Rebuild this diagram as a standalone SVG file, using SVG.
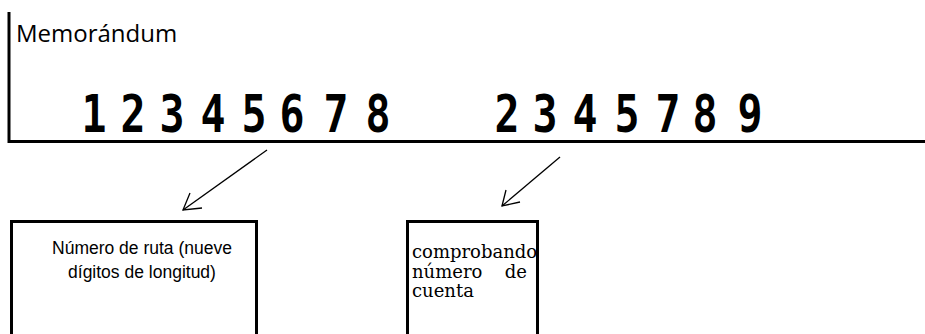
<svg xmlns="http://www.w3.org/2000/svg" width="925" height="334" viewBox="0 0 925 334">
  <style>
    .rule { stroke: #000; stroke-width: 3; fill: none; }
    .box { stroke: #000; stroke-width: 3; fill: #fff; }
    .conn { stroke: #000; stroke-width: 1.3; fill: none; }
    .micr { font-family: "DejaVu Sans Mono", "Liberation Mono", monospace; font-weight: bold; font-size: 52px; fill: #000; text-anchor: middle; }
    .memo { font-family: "Open Sans", "Noto Sans", sans-serif; font-size: 24px; fill: #000; }
    .lbl1 { font-family: "Liberation Sans", Arial, sans-serif; font-size: 17.5px; fill: #000; text-anchor: middle; }
    .lbl2 { font-family: "DejaVu Serif", "Liberation Serif", serif; font-size: 18px; fill: #000; }
  </style>
  <rect width="925" height="334" fill="#fff"/>
  <g id="check-line">
    <line class="rule" x1="9" y1="12" x2="9" y2="143"/>
    <line class="rule" x1="8" y1="141.5" x2="925" y2="141.5"/>
    <text class="memo" x="16" y="42">Memorándum</text>
  </g>
  <g id="routing-digits" transform="scale(0.8,1)">
    <text class="micr" x="117.5 166.25 215 266.25 317.5 365 420 472.5" y="132">12345678</text>
  </g>
  <g id="account-digits" transform="scale(0.8,1)">
    <text class="micr" x="633.75 681.25 731.25 783.75 835 881.25 937.5" y="132">2345789</text>
  </g>
  <g id="connectors">
    <line class="conn" x1="267" y1="150" x2="183" y2="210"/>
    <polyline class="conn" points="190,193 183,210 202,208"/>
    <line class="conn" x1="560" y1="157" x2="502" y2="206"/>
    <polyline class="conn" points="506,190 502,206 520,202"/>
  </g>
  <g id="routing-box">
    <rect class="box" x="11.5" y="221.5" width="245" height="120"/>
    <text class="lbl1" x="142" y="254">Número de ruta (nueve</text>
    <text class="lbl1" x="142" y="278">dígitos de longitud)</text>
  </g>
  <g id="account-box">
    <rect class="box" x="407.5" y="221.5" width="130" height="120"/>
    <text class="lbl2" x="412" y="258">comprobando</text>
    <text class="lbl2" x="412" y="278">número</text>
    <text class="lbl2" x="527" y="278" text-anchor="end">de</text>
    <text class="lbl2" x="412" y="297">cuenta</text>
  </g>
</svg>
